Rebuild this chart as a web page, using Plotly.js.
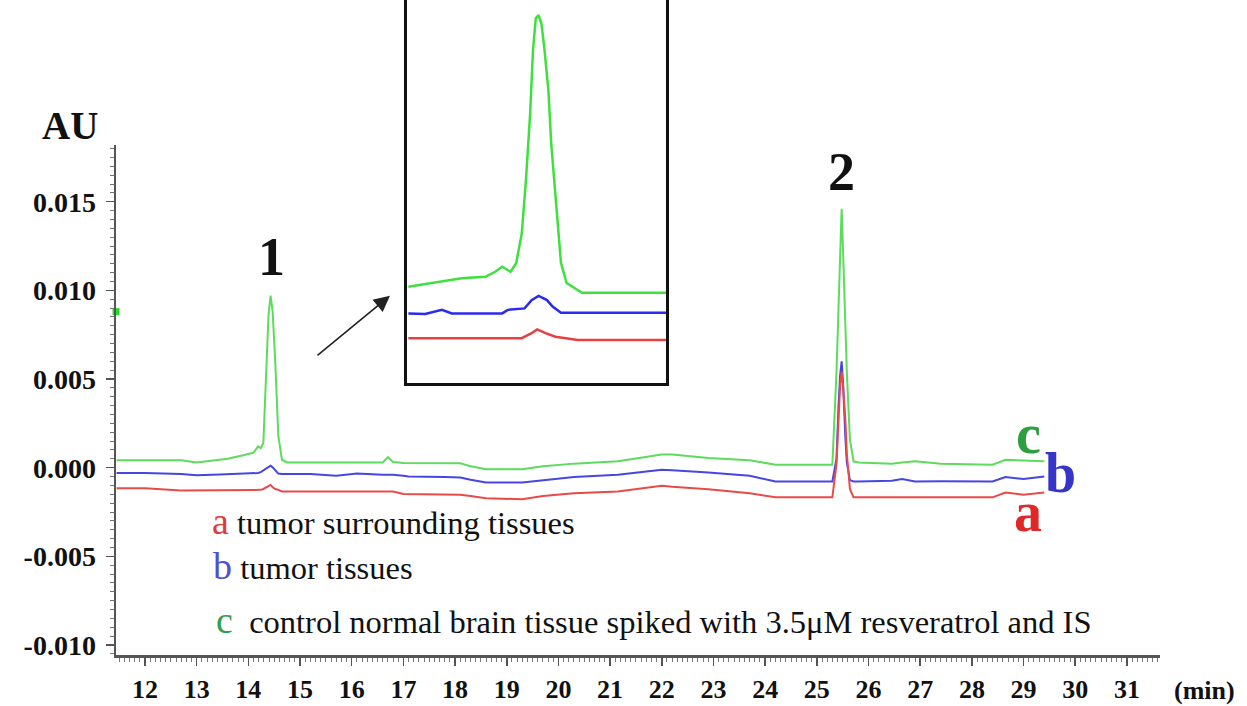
<!DOCTYPE html>
<html>
<head>
<meta charset="utf-8">
<script src="https://cdn.plot.ly/plotly-3.0.1.min.js"></script>
<style>html,body{margin:0;padding:0;background:#fff;}#chart{width:1247px;height:706px;}</style>
</head>
<body>
<div id="chart"></div>
<script>
// ---- data (retention time in min, absorbance in AU) ----
const timeMin = [11.45, 12.0, 12.7, 13.0, 13.45, 13.6, 13.9, 14.1, 14.19, 14.24, 14.29, 14.34, 14.39, 14.43, 14.47, 14.52, 14.58, 14.65, 14.75, 15.2,
  15.7, 16.1, 16.6, 16.7, 16.8, 17.0, 17.1, 17.8, 18.1, 18.3, 18.6, 19.3, 19.7, 20.3, 21.15, 22.0, 22.2, 22.9, 23.7, 24.2,
  25.3, 25.38, 25.42, 25.45, 25.48, 25.51, 25.55, 25.58, 25.64, 25.71, 25.8, 26.45, 26.65, 26.9, 27.4, 28.4, 28.65, 29.0, 29.4];

const seriesC = [0.00042, 0.00042, 0.00042, 0.0003, 0.00045, 0.0005, 0.0007, 0.00085, 0.0012, 0.0011, 0.0014, 0.005, 0.0086, 0.0097, 0.0088, 0.006, 0.0018, 0.00045, 0.0003, 0.0003,
  0.0003, 0.0003, 0.0003, 0.0006, 0.00032, 0.00027, 0.00027, 0.00025, 0.00025, 0.00008, -0.00008, -0.00008, 0.00008, 0.00023, 0.00036, 0.00074, 0.00074, 0.00055, 0.00042, 0.00017,
  0.00017, 0.0054, 0.0095, 0.013, 0.0146, 0.012, 0.0075, 0.0054, 0.0016, 0.00036, 0.0003, 0.00023, 0.0003, 0.00036, 0.00023, 0.00017, 0.00045, 0.0004, 0.00036];

const seriesB = [-0.0003, -0.0003, -0.00035, -0.00042, -0.00038, -0.00036, -0.00033, -0.0003, -0.0003, -0.00025, -0.00015, -0.00005, 0.00007, 0.00011, 0.00002, -0.00015, -0.00033, -0.00036, -0.00036, -0.00036,
  -0.00045, -0.00033, -0.0004, -0.00038, -0.0004, -0.00045, -0.0005, -0.00052, -0.00055, -0.00068, -0.00083, -0.00083, -0.0007, -0.00053, -0.0004, -0.00011, -0.00015, -0.00027, -0.00045, -0.00078,
  -0.00078, 0.0005, 0.0035, 0.0052, 0.006, 0.0046, 0.0018, 0.0003, -0.0007, -0.00078, -0.00078, -0.00074, -0.00064, -0.00078, -0.00076, -0.00078, -0.00053, -0.00064, -0.0005];

const seriesA = [-0.00116, -0.00116, -0.00129, -0.00129, -0.00129, -0.00129, -0.00128, -0.00127, -0.00125, -0.00125, -0.0012, -0.0011, -0.001, -0.00097, -0.0011, -0.0012, -0.00125, -0.00134, -0.00134, -0.00134,
  -0.00134, -0.00134, -0.00134, -0.00134, -0.00134, -0.00148, -0.00148, -0.0015, -0.00152, -0.0016, -0.00172, -0.00178, -0.0016, -0.00144, -0.00134, -0.00102, -0.00108, -0.00121, -0.00144, -0.00167,
  -0.00167, 0.0002, 0.0028, 0.0046, 0.0054, 0.0045, 0.0028, 0.0008, -0.0012, -0.00167, -0.00167, -0.00167, -0.00167, -0.00167, -0.00167, -0.00167, -0.0014, -0.00152, -0.0014];

// inset (zoom on peak 1)
const insetTimeC = [13.50, 13.74, 13.88, 14.05, 14.12, 14.17, 14.23, 14.27, 14.31, 14.34, 14.37, 14.39, 14.41, 14.43, 14.45, 14.47, 14.50, 14.52, 14.56, 14.59, 14.63, 14.74, 15.34];
const insetC = [0.0005, 0.00067, 0.00079, 0.00084, 0.00101, 0.00118, 0.00101, 0.0013, 0.00231, 0.00412, 0.00638, 0.0085, 0.00959, 0.0097, 0.00942, 0.00863, 0.00716, 0.00537, 0.003, 0.00131, 0.00063, 0.0003, 0.0003];
const insetTimeB = [13.50, 13.62, 13.74, 13.81, 14.17, 14.21, 14.33, 14.38, 14.43, 14.49, 14.53, 14.59, 15.34];
const insetB = [-0.0004, -0.00042, -0.00028, -0.0004, -0.0004, -0.00028, -0.00023, 0.00005, 0.00019, 0.00005, -0.00017, -0.00038, -0.00038];
const insetTimeA = [13.50, 14.31, 14.38, 14.42, 14.48, 14.55, 14.71, 15.34];
const insetA = [-0.00124, -0.00124, -0.00107, -0.00094, -0.00107, -0.00119, -0.0013, -0.0013];

// small green instrument markers on the axes
const markerTimes = [11.44, 26.45];
const markerValues = [0.0088, -0.0109];

// ticks
const xTickVals = [12,13,14,15,16,17,18,19,20,21,22,23,24,25,26,27,28,29,30,31];
const xTickText = ['12','13','14','15','16','17','18','19','20','21','22','23','24','25','26','27','28','29','30','31'];
const yTickVals = [-0.010, -0.005, 0.000, 0.005, 0.010, 0.015];
const yTickText = ['-0.010', '-0.005', '0.000', '0.005', '0.010', '0.015'];

// labels
const seriesLetters = ['a', 'b', 'c'];
const seriesNames = ['tumor surrounding tissues', 'tumor tissues', 'control normal brain tissue spiked with 3.5\u03bcM resveratrol and IS'];
const peakNames = ['1', '2'];

// ---- styles ----
const colA = '#e84a4a', colB = '#4646e4', colC = '#5cdc5c';
const serif = "'Liberation Serif', 'Times New Roman', serif";
const spanFam = "font-family:'Liberation Serif',serif;";

const traces = [
  {x: timeMin, y: seriesC, xaxis: 'x', yaxis: 'y', mode: 'lines', line: {color: colC, width: 2}},
  {x: timeMin, y: seriesB, xaxis: 'x', yaxis: 'y', mode: 'lines', line: {color: colB, width: 2}},
  {x: timeMin, y: seriesA, xaxis: 'x', yaxis: 'y', mode: 'lines', line: {color: colA, width: 2}},
  {x: insetTimeC, y: insetC, xaxis: 'x2', yaxis: 'y2', mode: 'lines', line: {color: '#3ee03e', width: 2.5}},
  {x: insetTimeB, y: insetB, xaxis: 'x2', yaxis: 'y2', mode: 'lines', line: {color: '#2a2af0', width: 2.5}},
  {x: insetTimeA, y: insetA, xaxis: 'x2', yaxis: 'y2', mode: 'lines', line: {color: '#e84040', width: 2.5}},
  {x: markerTimes, y: markerValues, xaxis: 'x', yaxis: 'y', mode: 'markers', cliponaxis: false,
   marker: {color: '#22dd22', size: 7, symbol: ['square', 'triangle-up']}}
];

const yTickFont = {family: serif, size: 28, color: '#111', weight: 'bold'};
const xTickFont = {family: serif, size: 26, color: '#111', weight: 'bold'};

function legendLine(i, color) {
  return '<span style="' + spanFam + 'color:' + color + ';font-size:38px">' + seriesLetters[i] + '</span>' +
         (i === 2 ? '\u00a0 ' : ' ') +
         '<span style="' + spanFam + 'color:#111;font-size:32.5px">' + seriesNames[i] + '</span>';
}

const annotations = [
  {text: 'AU', xref: 'paper', yref: 'paper', x: -0.0441, y: 0.809, xanchor: 'center', yanchor: 'middle', showarrow: false,
   font: {family: serif, size: 39, color: '#111', weight: 'bold'}},
  {text: '(min)', xref: 'paper', yref: 'paper', x: 1.0431, y: -0.054, xanchor: 'center', yanchor: 'middle', showarrow: false,
   font: {family: serif, size: 26, color: '#111', weight: 'bold'}},
  {text: peakNames[0], xref: 'x', yref: 'y', x: 14.45, y: 0.0119, xanchor: 'center', yanchor: 'middle', showarrow: false,
   font: {family: serif, size: 54, color: '#111', weight: 'bold'}},
  {text: peakNames[1], xref: 'x', yref: 'y', x: 25.48, y: 0.0167, xanchor: 'center', yanchor: 'middle', showarrow: false,
   font: {family: serif, size: 54, color: '#111', weight: 'bold'}},
  {text: seriesLetters[2], xref: 'x', yref: 'y', x: 29.09, y: 0.0019, xanchor: 'center', yanchor: 'middle', showarrow: false,
   font: {family: serif, size: 56, color: '#2f9e3f', weight: 'bold'}},
  {text: seriesLetters[1], xref: 'x', yref: 'y', x: 29.72, y: -0.0003, xanchor: 'center', yanchor: 'middle', showarrow: false,
   font: {family: serif, size: 56, color: '#3535c8', weight: 'bold'}},
  {text: seriesLetters[0], xref: 'x', yref: 'y', x: 29.09, y: -0.0025, xanchor: 'center', yanchor: 'middle', showarrow: false,
   font: {family: serif, size: 56, color: '#e02828', weight: 'bold'}},
  // arrow to inset
  {text: '', xref: 'x', yref: 'y', x: 16.74, y: 0.0097, ax: -74, ay: 61, showarrow: true,
   arrowhead: 2, arrowsize: 2, arrowwidth: 1.6, arrowcolor: '#222'},
  // legend lines
  {text: legendLine(0, '#e03c3c'), xref: 'paper', yref: 'paper', x: 0.09, y: 0.205, xanchor: 'left', yanchor: 'middle', showarrow: false,
   font: {family: serif, size: 32.5, color: '#111'}},
  {text: legendLine(1, '#5050d0'), xref: 'paper', yref: 'paper', x: 0.091, y: 0.136, xanchor: 'left', yanchor: 'middle', showarrow: false,
   font: {family: serif, size: 32.5, color: '#111'}},
  {text: legendLine(2, '#30a04a'), xref: 'paper', yref: 'paper', x: 0.094, y: 0.054, xanchor: 'left', yanchor: 'middle', showarrow: false,
   font: {family: serif, size: 32.5, color: '#111'}}
];

const layout = {
  width: 1247, height: 706,
  margin: {l: 116, r: 87, t: 0, b: 51, pad: 0},
  paper_bgcolor: '#fff', plot_bgcolor: 'rgba(0,0,0,0)',
  showlegend: false,
  font: {family: serif},
  xaxis: {
    domain: [0, 1], range: [11.439, 31.64], anchor: 'y',
    showline: true, linecolor: '#555', linewidth: 2.5, showgrid: false, zeroline: false,
    ticks: 'outside', ticklen: 8, tickwidth: 1.5, tickcolor: '#555',
    tickmode: 'array', tickvals: xTickVals, ticktext: xTickText, tickfont: xTickFont,
    ticklabelstandoff: 1,
    minor: {tickmode: 'linear', tick0: 0, dtick: 0.1, ticks: 'outside', ticklen: 4, tickwidth: 1, tickcolor: '#777', showgrid: false}
  },
  yaxis: {
    domain: [0, 0.7786], range: [-0.010563, 0.018199], anchor: 'x',
    showline: true, linecolor: '#555', linewidth: 2.5, showgrid: false, zeroline: false,
    ticks: 'outside', ticklen: 8, tickwidth: 1.5, tickcolor: '#555',
    tickmode: 'array', tickvals: yTickVals, ticktext: yTickText, tickfont: yTickFont,
    ticklabelstandoff: 4,
    minor: {tickmode: 'linear', tick0: 0, dtick: 0.0005, ticks: 'outside', ticklen: 4, tickwidth: 1, tickcolor: '#777', showgrid: false}
  },
  xaxis2: {
    domain: [0.2787, 0.5268], range: [13.49, 15.34], anchor: 'y2',
    showline: true, linecolor: '#111', linewidth: 3, showgrid: false, zeroline: false,
    showticklabels: false, ticks: ''
  },
  yaxis2: {
    domain: [0.4148, 1], range: [-0.002766, 0.01021], anchor: 'x2',
    showline: true, mirror: true, linecolor: '#111', linewidth: 3, showgrid: false, zeroline: false,
    showticklabels: false, ticks: ''
  },
  annotations: annotations
};

Plotly.newPlot('chart', traces, layout, {staticPlot: true, displayModeBar: false});
</script>
</body>
</html>
